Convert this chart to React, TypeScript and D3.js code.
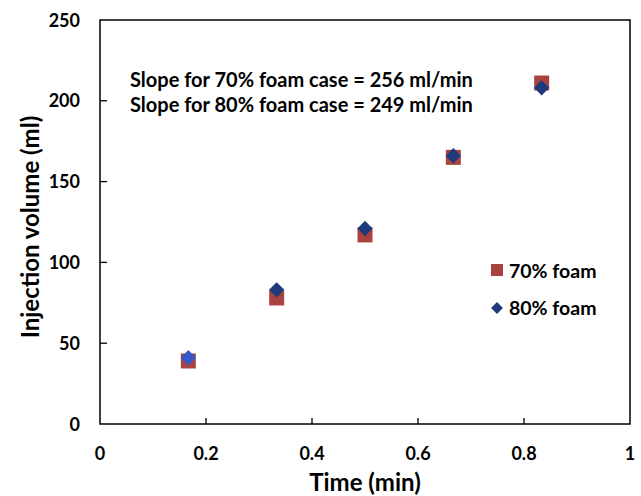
import React from "react";
import * as d3 from "d3";

// Injection volume measured over time for two foam qualities
const times = [1 / 6, 2 / 6, 3 / 6, 4 / 6, 5 / 6];
const foam70 = [39, 78, 117, 165, 211];
const foam80 = [41, 83, 121, 166, 208];
const xTicks = [0, 0.2, 0.4, 0.6, 0.8, 1];
const yTicks = [0, 50, 100, 150, 200, 250];
const notes = [
  "Slope for 70% foam case = 256 ml/min",
  "Slope for 80% foam case = 249 ml/min",
];
const seriesNames = ["70% foam", "80% foam"];

const W = 641;
const H = 496;
const M = { left: 100, right: 11, top: 20, bottom: 72 };
const FONT = "Lato, 'Open Sans', sans-serif";
const RED = "#A8433F";
const NAVY = "#1F3A7C";
const BLUE = "#3558C8";

export default function App() {
  const x = d3.scaleLinear().domain([0, 1]).range([M.left, W - M.right]);
  const y = d3.scaleLinear().domain([0, 250]).range([H - M.bottom, M.top]);
  const sq = 15;
  const diamond = d3.symbol().type(d3.symbolDiamond2).size(150)() as string;

  return (
    <svg
      width={W}
      height={H}
      style={{ position: "absolute", left: 0, top: 0, background: "#fff" }}
      fontFamily={FONT}
      fontWeight="bold"
    >
      {/* plot frame */}
      <rect
        x={x(0)}
        y={y(250)}
        width={x(1) - x(0)}
        height={y(0) - y(250)}
        fill="none"
        stroke="#000"
        strokeWidth={1.5}
      />
      {/* inward ticks */}
      {xTicks.slice(1, -1).map((t) => (
        <line key={"xt" + t} x1={x(t)} x2={x(t)} y1={y(0)} y2={y(0) - 6} stroke="#000" strokeWidth={1.3} />
      ))}
      {yTicks.slice(1, -1).map((t) => (
        <line key={"yt" + t} x1={x(0)} x2={x(0) + 7} y1={y(t)} y2={y(t)} stroke="#000" strokeWidth={1.3} />
      ))}
      {/* tick labels */}
      {xTicks.map((t) => (
        <text key={"xl" + t} x={x(t)} y={y(0) + 36} textAnchor="middle" fontSize={18} fill="#000">
          {d3.format("~g")(t)}
        </text>
      ))}
      {yTicks.map((t) => (
        <text key={"yl" + t} x={x(0) - 20} y={y(t) + 6.5} textAnchor="end" fontSize={18} fill="#000">
          {t}
        </text>
      ))}
      {/* axis titles */}
      <text x={(x(0) + x(1)) / 2} y={H - 5} textAnchor="middle" fontSize={24} fill="#000">
        Time (min)
      </text>
      <text
        transform={`translate(39, ${(y(0) + y(250)) / 2 + 5}) rotate(-90)`}
        textAnchor="middle"
        fontSize={24}
        fill="#000"
      >
        Injection volume (ml)
      </text>
      {/* slope annotations */}
      {notes.map((n, i) => (
        <text key={n} x={x(0) + 30} y={87 + i * 25} fontSize={20} fill="#000">
          {n}
        </text>
      ))}
      {/* 70% foam squares */}
      {times.map((t, i) => (
        <rect key={"s" + i} x={x(t) - sq / 2} y={y(foam70[i]) - sq / 2} width={sq} height={sq} fill={RED} />
      ))}
      {/* 80% foam diamonds */}
      {times.map((t, i) => (
        <path
          key={"d" + i}
          d={diamond}
          transform={`translate(${x(t)}, ${y(foam80[i])})`}
          fill={i === 0 ? BLUE : NAVY}
        />
      ))}
      {/* legend */}
      <rect x={491} y={264} width={12} height={12} fill={RED} />
      <text x={509} y={278} fontSize={19.5} fill="#000">
        {seriesNames[0]}
      </text>
      <path d={d3.symbol().type(d3.symbolDiamond2).size(90)() as string} transform="translate(497, 308)" fill={NAVY} />
      <text x={509} y={315} fontSize={19.5} fill="#000">
        {seriesNames[1]}
      </text>
    </svg>
  );
}
